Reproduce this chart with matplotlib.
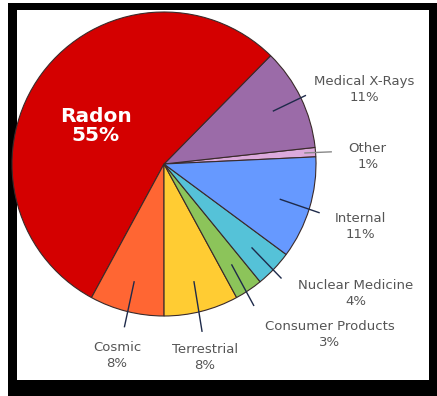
import numpy as np
import matplotlib.pyplot as plt
from matplotlib.patches import Rectangle

# slices in drawing order (counter-clockwise from just above 3 o'clock)
sources = ["Other", "Medical X-Rays", "Radon", "Cosmic", "Terrestrial",
           "Consumer Products", "Nuclear Medicine", "Internal"]
percent = [1, 11, 55, 8, 8, 3, 4, 11]
colors = ["#dcaadc", "#9b6ba8", "#d40000", "#ff6633", "#ffcc33",
          "#8cc45a", "#55c2d8", "#6699ff"]

# label layout, in pie radius units
text_xy = {
    "Radon": (-0.45, 0.25),
    "Medical X-Rays": (1.32, 0.49),
    "Other": (1.34, 0.05),
    "Internal": (1.29, -0.41),
    "Nuclear Medicine": (1.26, -0.85),
    "Consumer Products": (1.09, -1.12),
    "Terrestrial": (0.27, -1.27),
    "Cosmic": (-0.31, -1.26),
}
leader_end = {
    "Medical X-Rays": (0.93, 0.45),
    "Other": (1.10, 0.08),
    "Internal": (1.02, -0.32),
    "Nuclear Medicine": (0.77, -0.75),
    "Consumer Products": (0.59, -0.93),
    "Terrestrial": (0.25, -1.10),
    "Cosmic": (-0.26, -1.07),
}

W, H = 437, 396
fig = plt.figure(figsize=(W / 100, H / 100), dpi=100)
fig.patch.set_facecolor("white")

# black picture frame
fig.patches.append(Rectangle((8 / W, 0), (W - 8) / W, (H - 3) / H,
                             transform=fig.transFigure, facecolor="black",
                             edgecolor="none", zorder=-2))
left, right, top, bottom = 17, 429, 10, 380
fig.patches.append(Rectangle((left / W, (H - bottom) / H), (right - left) / W,
                             (bottom - top) / H, transform=fig.transFigure,
                             facecolor="white", edgecolor="none", zorder=-1))

ax = fig.add_axes([left / W, (H - bottom) / H, (right - left) / W, (bottom - top) / H])
wedges, _ = ax.pie(percent, colors=colors, startangle=2.7, counterclock=True,
                   wedgeprops=dict(edgecolor="#3a2a2a", linewidth=0.8))

cx, cy, r = 164, 164, 152
ax.set_xlim((left - cx) / r, (right - cx) / r)
ax.set_ylim((cy - bottom) / r, (cy - top) / r)
ax.set_aspect("equal")
ax.axis("off")

for w, name, p in zip(wedges, sources, percent):
    tx, ty = text_xy[name]
    if name == "Radon":
        ax.text(tx, ty, f"{name}\n{p}%", ha="center", va="center", color="white",
                fontsize=14.5, fontweight="bold", linespacing=1.0)
        continue
    mid = np.deg2rad((w.theta1 + w.theta2) / 2)
    rr = 0.93 if name == "Other" else 0.8
    ex, ey = leader_end[name]
    ax.plot([rr * np.cos(mid), ex], [rr * np.sin(mid), ey],
            color="#888888" if name == "Other" else "#1e2a4a", lw=1)
    ax.text(tx, ty, f"{name}\n{p}%", ha="center", va="center", color="#555555",
            fontsize=9.5, linespacing=1.3)

fig.savefig("out.png", dpi=100)
